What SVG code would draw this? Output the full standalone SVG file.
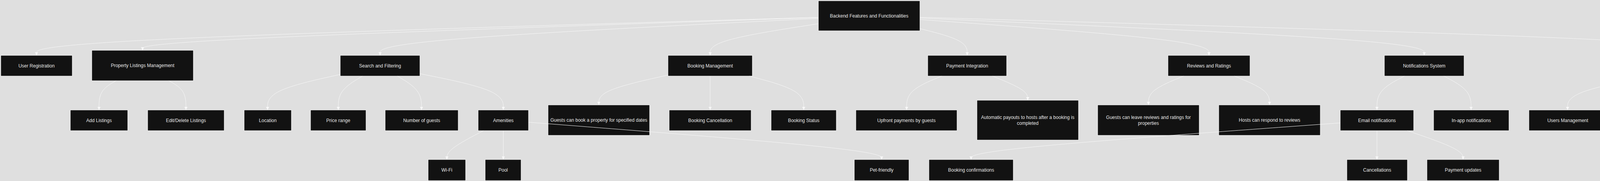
<svg xmlns="http://www.w3.org/2000/svg" width="4929" height="464" viewBox="0 0 4929 464">
<style>
.node rect{fill:#121212;stroke:#ffffff;stroke-width:1}
.node text{font-family:"Liberation Sans",Arial,sans-serif;font-size:12px;fill:#e8e8e8;text-anchor:middle}
.edge{fill:none;stroke:#f8f8f8;stroke-width:1;marker-end:url(#arrow)}
</style>
<defs>
<marker id="arrow" viewBox="0 0 10 10" refX="10" refY="5" markerWidth="8" markerHeight="8" markerUnits="userSpaceOnUse" orient="auto"><path d="M0,0 L10,5 L0,10 z" fill="#f8f8f8"/></marker>
</defs>
<rect width="4929" height="464" fill="#dfdfdf"/>
<g id="nodes">
<g id="root" class="node"><rect x="2095" y="2" width="260" height="77"/><text x="2225" y="44.7">Backend Features and Functionalities</text></g>
<g id="userRegistration" class="node"><rect x="2" y="142" width="183" height="53"/><text x="93.5" y="172.7">User Registration</text></g>
<g id="propertyListings" class="node"><rect x="235" y="129" width="260" height="78"/><text x="365" y="172.2">Property Listings Management</text></g>
<g id="searchFiltering" class="node"><rect x="871" y="142" width="204" height="53"/><text x="973" y="172.7">Search and Filtering</text></g>
<g id="bookingManagement" class="node"><rect x="1710" y="142" width="216" height="53"/><text x="1818" y="172.7">Booking Management</text></g>
<g id="paymentIntegration" class="node"><rect x="2375" y="142" width="202" height="53"/><text x="2476" y="172.7">Payment Integration</text></g>
<g id="reviewsRatings" class="node"><rect x="2990" y="142" width="210" height="53"/><text x="3095" y="172.7">Reviews and Ratings</text></g>
<g id="notificationsSystem" class="node"><rect x="3544" y="142" width="204" height="53"/><text x="3646" y="172.7">Notifications System</text></g>
<g id="adminDashboard" class="node"><rect x="4309" y="142" width="189" height="53"/><text x="4403.5" y="172.7">Admin Dashboard</text></g>
<g id="addListings" class="node"><rect x="180" y="282" width="147" height="53"/><text x="253.5" y="312.7">Add Listings</text></g>
<g id="editDeleteListings" class="node"><rect x="378" y="282" width="196" height="53"/><text x="476" y="312.7">Edit/Delete Listings</text></g>
<g id="location" class="node"><rect x="625" y="282" width="121" height="53"/><text x="685.5" y="312.7">Location</text></g>
<g id="priceRange" class="node"><rect x="795" y="282" width="142" height="53"/><text x="866" y="312.7">Price range</text></g>
<g id="numberOfGuests" class="node"><rect x="986" y="282" width="187" height="53"/><text x="1079.5" y="312.7">Number of guests</text></g>
<g id="amenities" class="node"><rect x="1224" y="282" width="129" height="53"/><text x="1288.5" y="312.7">Amenities</text></g>
<g id="guestsBook" class="node"><rect x="1403" y="269" width="260" height="78"/><text x="1533" y="312.2">Guests can book a property for specified dates</text></g>
<g id="bookingCancellation" class="node"><rect x="1713" y="282" width="210" height="53"/><text x="1818" y="312.7">Booking Cancellation</text></g>
<g id="bookingStatus" class="node"><rect x="1974" y="282" width="167" height="53"/><text x="2057.5" y="312.7">Booking Status</text></g>
<g id="upfrontPayments" class="node"><rect x="2191" y="282" width="259" height="53"/><text x="2320.5" y="312.7">Upfront payments by guests</text></g>
<g id="automaticPayouts" class="node"><rect x="2501" y="257" width="260" height="102"/><text x="2631" y="304.9">Automatic payouts to hosts after a booking is</text><text x="2631" y="319.9">completed</text></g>
<g id="guestsReviews" class="node"><rect x="2810" y="269" width="260" height="78"/><text x="2940" y="304.9">Guests can leave reviews and ratings for</text><text x="2940" y="319.9">properties</text></g>
<g id="hostsRespond" class="node"><rect x="3120" y="269" width="260" height="78"/><text x="3250" y="312.2">Hosts can respond to reviews</text></g>
<g id="emailNotifications" class="node"><rect x="3431" y="282" width="188" height="53"/><text x="3525" y="312.7">Email notifications</text></g>
<g id="inAppNotifications" class="node"><rect x="3670" y="282" width="193" height="53"/><text x="3766.5" y="312.7">In-app notifications</text></g>
<g id="usersManagement" class="node"><rect x="3914" y="282" width="199" height="53"/><text x="4013.5" y="312.7">Users Management</text></g>
<g id="listingsManagement" class="node"><rect x="4164" y="282" width="211" height="53"/><text x="4269.5" y="312.7">Listings Management</text></g>
<g id="bookingsManagement" class="node"><rect x="4426" y="282" width="224" height="53"/><text x="4538" y="312.7">Bookings Management</text></g>
<g id="paymentsManagement" class="node"><rect x="4699" y="282" width="229" height="53"/><text x="4813.5" y="312.7">Payments Management</text></g>
<g id="wifi" class="node"><rect x="1096" y="409" width="96" height="54"/><text x="1144" y="440.2">Wi-Fi</text></g>
<g id="pool" class="node"><rect x="1242" y="409" width="92" height="54"/><text x="1288" y="440.2">Pool</text></g>
<g id="petFriendly" class="node"><rect x="2187" y="409" width="140" height="54"/><text x="2257" y="440.2">Pet-friendly</text></g>
<g id="bookingConfirmations" class="node"><rect x="2378" y="409" width="216" height="54"/><text x="2486" y="440.2">Booking confirmations</text></g>
<g id="cancellations" class="node"><rect x="3448" y="409" width="155" height="54"/><text x="3525.5" y="440.2">Cancellations</text></g>
<g id="paymentUpdates" class="node"><rect x="3653" y="409" width="185" height="54"/><text x="3745.5" y="440.2">Payment updates</text></g>
</g>
<g id="connectors">
<path class="edge" d="M2095,44.4 L1761.4,54.3 C1427.8,64.3 760.7,84.1 427.1,100.3 C93.5,116.5 93.5,129 93.5,135.2 L93.5,142"/>
<path class="edge" d="M2095,44.9 L1806.7,54.75 C1518.3,64.6 941.7,84.3 653.3,98.3 C365,112.3 365,120.7 365,124.8 L365,129"/>
<path class="edge" d="M2095,47.1 L1908,56.6 C1721,66.1 1347,85 1160,100.8 C973,116.5 973,129 973,135.2 L973,142"/>
<path class="edge" d="M2095,60.8 L2048.8,68 C2002.7,75.2 1910.3,89.6 1864.2,103 C1818,116.5 1818,129 1818,135.2 L1818,142"/>
<path class="edge" d="M2355,73.4 L2375.2,78.5 C2395.3,83.6 2435.7,93.8 2455.8,105.2 C2476,116.5 2476,129 2476,135.2 L2476,142"/>
<path class="edge" d="M2355,50 L2478.3,59 C2601.7,68 2848.3,86 2971.7,101.25 C3095,116.5 3095,129 3095,135.2 L3095,142"/>
<path class="edge" d="M2355,46.3 L2570.2,55.9 C2785.3,65.5 3215.7,84.8 3430.8,100.6 C3646,116.5 3646,129 3646,135.2 L3646,142"/>
<path class="edge" d="M2355,44.3 L2696.3,54.25 C3037.7,64.2 3720.3,84.1 4061.7,100.3 C4403,116.5 4403,129 4403,135.2 L4403,142"/>
<path class="edge" d="M297.1,207 L289.8,211.2 C282.6,215.3 268,223.7 260.8,236.1 C253.5,248.5 253.5,265 253.5,273.25 L253.5,282"/>
<path class="edge" d="M432.6,207 L439.8,211.2 C447.1,215.3 461.5,223.7 468.8,236.1 C476,248.5 476,265 476,273.25 L476,282"/>
<path class="edge" d="M871,190.8 L840,197.7 C809,204.5 747,218.3 716,233.4 C685,248.5 685,265 685,273.25 L685,282"/>
<path class="edge" d="M928.1,195 L917.75,201.2 C907.4,207.3 886.7,219.7 876.35,234.1 C866,248.5 866,265 866,273.25 L866,282"/>
<path class="edge" d="M1017.5,195 L1027.75,201.2 C1038,207.3 1058.5,219.7 1068.75,234.1 C1079,248.5 1079,265 1079,273.25 L1079,282"/>
<path class="edge" d="M1075,188.9 L1110.6,196.1 C1146.2,203.3 1217.3,217.6 1252.9,233.1 C1288.5,248.5 1288.5,265 1288.5,273.25 L1288.5,282"/>
<path class="edge" d="M1710,192.4 L1680.5,199 C1651,205.6 1592,218.8 1562.5,231.6 C1533,244.3 1533,256.7 1533,262.8 L1533,269"/>
<path class="edge" d="M1818,195 L1818,282"/>
<path class="edge" d="M1918.5,195 L1941.7,201.2 C1964.8,207.3 2011.2,219.7 2034.3,234.1 C2057.5,248.5 2057.5,265 2057.5,273.25 L2057.5,282"/>
<path class="edge" d="M2411,195 L2396,201.2 C2381,207.3 2351,219.7 2336,234.1 C2321,248.5 2321,265 2321,273.25 L2321,282"/>
<path class="edge" d="M2541,195 L2556,201.2 C2571,207.3 2601,219.7 2616,230 C2631,240.3 2631,248.7 2631,252.8 L2631,257"/>
<path class="edge" d="M3030,195 L3015,201.2 C3000,207.3 2970,219.7 2955,232 C2940,244.3 2940,256.7 2940,262.8 L2940,269"/>
<path class="edge" d="M3160,195 L3175,201.2 C3190,207.3 3220,219.7 3235,232 C3250,244.3 3250,256.7 3250,262.8 L3250,269"/>
<path class="edge" d="M3595.2,195 L3583.5,201.2 C3571.8,207.3 3548.4,219.7 3536.7,234.1 C3525,248.5 3525,265 3525,273.25 L3525,282"/>
<path class="edge" d="M3696.4,195 L3708,201.2 C3719.6,207.3 3742.8,219.7 3754.4,234.1 C3766,248.5 3766,265 3766,273.25 L3766,282"/>
<path class="edge" d="M4309,183.65 L4259.7,191.7 C4210.3,199.8 4111.7,215.9 4062.3,232.2 C4013,248.5 4013,265 4013,273.25 L4013,282"/>
<path class="edge" d="M4346.8,195 L4333.8,201.2 C4320.9,207.3 4294.9,219.7 4282,234.1 C4269,248.5 4269,265 4269,273.25 L4269,282"/>
<path class="edge" d="M4459.4,195 L4472.4,201.2 C4485.4,207.3 4511.5,219.7 4524.5,234.1 C4537.5,248.5 4537.5,265 4537.5,273.25 L4537.5,282"/>
<path class="edge" d="M4497.5,182.9 L4550.2,191.1 C4602.8,199.3 4708.2,215.6 4760.8,232.2 C4813.5,248.5 4813.5,265 4813.5,273.25 L4813.5,282"/>
<path class="edge" d="M1237.5,335 L1221.9,343.2 C1206.3,351.3 1175.2,367.7 1159.6,380.1 C1144,392.5 1144,401 1144,405.25 L1144,409"/>
<path class="edge" d="M1288.5,335 L1288.5,409"/>
<path class="edge" d="M1353,313.3 L1503.7,325.1 C1654.3,336.9 1955.7,360.4 2106.3,376.5 C2257,392.5 2257,401 2257,405.25 L2257,409"/>
<path class="edge" d="M3431,315.1 L3273.5,326.6 C3116,338.1 2801,361 2643.5,376.8 C2486,392.5 2486,401 2486,405.25 L2486,409"/>
<path class="edge" d="M3525,335 L3525,409"/>
<path class="edge" d="M3602.9,335 L3626.7,343.2 C3650.4,351.3 3698,367.7 3721.7,380.1 C3745.5,392.5 3745.5,401 3745.5,405.25 L3745.5,409"/>
</g>
</svg>
